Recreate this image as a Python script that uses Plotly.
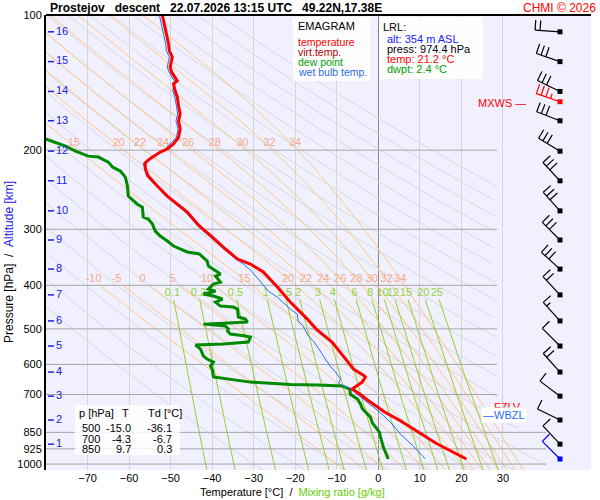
import numpy as np
import plotly.graph_objects as go

# ---- sounding ----
temp_p = [974.4, 940, 900, 850, 800, 766, 750, 720, 700, 680.8, 657, 640, 634, 614, 602,
          555, 536, 500, 475.5, 435.7, 403.5, 373.6, 358.5, 349.5, 332, 312, 295, 274.7,
          266.5, 253.1, 240.4, 228.4, 220.3, 213.7, 210.4, 207.2, 202.0, 198.8, 193.7,
          187.2, 179.4, 172.1, 166.1, 159.3, 152.2, 147.7, 142.4, 140.2, 136.6, 133.9,
          130.5, 124.0, 120.3, 116.0, 110.3, 104.7, 100]
temp_t = [21.2, 18.0, 14.0, 9.7, 5.2, 1.5, 0.0, -2.6, -4.3, -6.3, -3.9, -3.1, -3.6, -6.0, -6.7,
          -9.9, -11.1, -15.0, -17.1, -21.2, -24.3, -27.7, -30.8, -33.9, -36.8, -40.0, -43.1, -46.0,
          -47.7, -50.8, -53.2, -55.4, -56.1, -56.1, -55.4, -54.2, -52.5, -50.8, -49.3,
          -48.1, -47.7, -48.1, -47.7, -48.1, -48.4, -48.9, -49.3, -48.4, -49.1, -49.8,
          -50.1, -49.6, -50.3, -50.5, -51.0, -51.5, -52.0]

dwpt_p = [974.4, 916.5, 867.6, 850, 810.7, 786, 754, 735, 716.5, 700, 681, 670, 667, 665,
          657, 640, 614.4, 605, 592.8, 583.7, 574.8, 554.6, 543.3, 540.5, 535, 521.4, 518.8,
          513.5, 505.7, 500, 492.9, 488, 483, 475.5, 470.6, 458.7, 451.7, 447.1, 444.8,
          435.8, 429.1, 422.6, 418.2, 414, 411.9, 407.7, 397.4, 393.4, 387.3, 381.4, 377.5,
          373.6, 367.9, 362.3, 353.1, 340.6, 337.1, 326.9, 318.7, 310.7, 302.8, 291.8,
          284.7, 281.8, 267.8, 263.8, 253.1, 240.4, 229.6, 222.6, 218, 212.6, 207.2, 206.2,
          201, 195.8, 188.9, 183]
dwpt_t = [2.4, 1.2, 0.5, 0.3, -1.4, -1.9, -3.8, -4.3, -5.0, -6.7, -6.9, -8.7, -14.7, -21.2,
          -30.8, -39.7, -40.0, -40.4, -39.7, -41.2, -42.1, -42.8, -44.0, -37.3, -31.3, -30.8, -32.0,
          -35.6, -36.3, -36.1, -36.8, -42.1, -31.5, -32.0, -33.7, -33.9, -33.9, -34.9, -38.0,
          -39.2, -37.5, -39.7, -42.1, -40.0, -39.2, -40.9, -39.7, -38.0, -38.5, -39.2, -38.0,
          -38.7, -40.0, -40.9, -41.2, -43.1, -46.0, -49.3, -50.8, -52.5, -53.7, -54.4,
          -55.4, -56.6, -56.8, -58.0, -60.2, -60.4, -60.9, -62.1, -64.0, -65.0, -67.4, -69.8,
          -72.9, -75.3, -80.1, -82.0]

wetb_p = [974.4, 911.6, 857.3, 806.3, 766, 720.2, 695.6, 681, 670, 660, 646.8, 624, 605.2,
          574.8, 545.6, 532.3, 519.5, 492.7, 480.4, 463.6, 451.7, 436, 425, 412, 393, 373.6,
          358.5, 349.5, 332, 312, 295, 274.7, 253.1, 228.4, 213.7, 207.2, 198.8, 187.2,
          179.4, 172.1, 166.1, 159.3, 152.2, 147.7, 140.2, 133.9, 130.5, 124, 120.3, 116,
          110.3, 104.7, 100]
wetb_t = [11.3, 8.4, 5.3, 2.9, 0.3, -3.3, -5.4, -6.3, -8.6, -9.6, -9.1, -10.3, -11.6,
          -13.2, -14.7, -15.6, -16.8, -18.1, -19.3, -19.5, -21.2, -22.9, -24.3, -26.5, -28.4, -30.3,
          -32.5, -34.3, -37.2, -40.4, -43.5, -46.4, -51.2, -55.8, -56.6, -54.8, -51.3, -48.6,
          -48.2, -48.7, -48.3, -48.6, -49.0, -49.5, -49.1, -50.4, -50.8, -50.3, -51.0, -51.2,
          -51.7, -52.3, -52.7]

# altitude scale
alt_km = [16, 15, 14, 13, 12, 11, 10, 9, 8, 7, 6, 5, 4, 3, 2, 1]
alt_p = [109, 127, 148, 172, 201, 234, 273, 317, 368, 420, 480, 546, 624, 706, 798, 903]

# winds (deg, kt); MXWS red, surface blue
wind_p = [109, 127, 148, 156, 172, 201, 234, 273, 317, 368, 420, 480, 546, 624, 706, 798, 903, 974.4]
wind_dir = [274, 289, 296, 289, 291, 301, 317, 318, 315, 312, 317, 318, 315, 318, 307, 296, 317, 315]
wind_spd = [20, 30, 30, 35, 30, 30, 30, 30, 30, 30, 20, 15, 10, 20, 10, 10, 10, 10]
wind_col = ["black"] * 3 + ["red"] + ["black"] * 13 + ["blue"]

# table
table_p = [500, 700, 850]
table_t = [-15.0, -4.3, 9.7]
table_td = [-36.1, -6.7, 0.3]

# diagram isopleths
pressure_ticks = [100, 200, 300, 400, 500, 600, 700, 850, 925, 1000]
isobars_short = [200, 300, 400, 500, 600, 700]
isobars_long = [850, 925, 1000]
dry_theta = list(range(-30, 190, 10))
moist_thw_full = [15, 20, 22, 24, 26, 28, 30, 32, 34]
moist_thw_low = [-10, -5, 0, 5, 10]
mix_w = [0.1, 0.2, 0.5, 1, 1.5, 2, 3, 4, 6, 8, 10, 12, 15, 20, 25]

# ---- geometry ----
W, H = 600, 500
ML, MR, MT, MB = 46, 9, 15, 30
T_MIN, T_MAX = -80.0, 51.2
P_TOP, P_BOT = 100.0, 1031.0
PW, PH = W - ML - MR, H - MT - MB
KX = PW / (T_MAX - T_MIN)
KY = PH / (np.log10(P_BOT) - np.log10(P_TOP))


def px(x):
    return (x - ML) / PW


def py(y):
    return (H - MB - y) / PH


def esat(tc):
    return 6.112 * np.exp(17.67 * tc / (tc + 243.5))


def moist_adiabat(thw, p_end):
    def slope(T, p):
        es = esat(T - 273.15)
        rs = 0.622 * es / (p - es)
        return (287.04 * T + 2.501e6 * rs) / (1005.7 + 2.501e6 ** 2 * rs * 0.622 / (287.04 * T * T)) / p
    parts = []
    for target in (p_end, P_BOT):
        T, p = thw + 273.15, 1000.0
        n = 300
        h = (target - 1000.0) / n
        pts = [(p, T)]
        for _ in range(n):
            k1 = slope(T, p)
            k2 = slope(T + h * k1 / 2, p + h / 2)
            k3 = slope(T + h * k2 / 2, p + h / 2)
            k4 = slope(T + h * k3, p + h)
            T += h * (k1 + 2 * k2 + 2 * k3 + k4) / 6
            p += h
            pts.append((p, T))
        parts.append(pts)
    pts = parts[0][::-1] + parts[1][1:]
    return np.array([q[0] for q in pts]), np.array([q[1] - 273.15 for q in pts])


fig = go.Figure()

# dry adiabats
pp = np.geomspace(P_TOP, P_BOT, 200)
tmax = np.where(pp <= 700, 28.6, 28.6 + (pp - 700) / 300 * 11.8)
dx, dy = [], []
for th in dry_theta:
    tt = (th + 273.15) * (pp / 1000.0) ** 0.2857 - 273.15
    tt = np.where(tt > tmax, np.nan, tt)
    dx += list(tt) + [None]
    dy += list(pp) + [None]
fig.add_trace(go.Scatter(x=dx, y=dy, mode="lines", line=dict(color="#d9d9e0", width=1), hoverinfo="skip"))

# moist adiabats
mx, my, lab_up, lab_lo = [], [], [], []
for thw in moist_thw_low + moist_thw_full:
    p_end = 100.0 if thw >= 15 else 400.0
    p_arr, t_arr = moist_adiabat(thw, p_end)
    mx += list(t_arr) + [None]
    my += list(p_arr) + [None]
    order = np.argsort(p_arr)
    lab_lo.append(np.interp(387, p_arr[order], t_arr[order]))
    if thw >= 15:
        lab_up.append(np.interp(193, p_arr[order], t_arr[order]))
fig.add_trace(go.Scatter(x=mx, y=my, mode="lines", line=dict(color="#ffc788", width=1), hoverinfo="skip"))

# mixing ratio lines
pm = np.geomspace(430, P_BOT, 60)
wx, wy, wl = [], [], []
for w in mix_w:
    lr = np.log(w * pm / (622.0 + w) / 6.112)
    td = 243.5 * lr / (17.67 - lr)
    wx += list(td) + [None]
    wy += list(pm) + [None]
    l0 = np.log(w * 416 / (622.0 + w) / 6.112)
    wl.append(243.5 * l0 / (17.67 - l0))
fig.add_trace(go.Scatter(x=wx, y=wy, mode="lines", line=dict(color="#9acd32", width=1), hoverinfo="skip"))

# isobars
ix, iy = [], []
for p in isobars_short:
    ix += [T_MIN, 28.6, None]
    iy += [p, p, None]
for p in isobars_long:
    ix += [T_MIN, 40.4, None]
    iy += [p, p, None]
fig.add_trace(go.Scatter(x=ix, y=iy, mode="lines", line=dict(color="#a6a6a6", width=1), hoverinfo="skip"))

# labels of isopleths (nudged a little off the lines, as in the original)
fig.add_trace(go.Scatter(x=[t + 1.0 for t in lab_up], y=[193] * len(lab_up), mode="text",
                         text=[str(v) for v in moist_thw_full],
                         textfont=dict(color="#f7a98a", size=11), hoverinfo="skip"))
fig.add_trace(go.Scatter(x=[t - 1.5 if v < 15 else t for t, v in zip(lab_lo, moist_thw_low + moist_thw_full)],
                         y=[387] * len(lab_lo), mode="text",
                         text=[str(v) for v in moist_thw_low + moist_thw_full],
                         textfont=dict(color="#f7a98a", size=11), hoverinfo="skip"))
fig.add_trace(go.Scatter(x=wl, y=[416] * len(wl), mode="text",
                         text=[f"{v:g}" for v in mix_w],
                         textfont=dict(color="#99d23c", size=11), hoverinfo="skip"))

# sounding curves
fig.add_trace(go.Scatter(x=dwpt_t, y=dwpt_p, mode="lines", line=dict(color="#008a00", width=3), hoverinfo="skip"))
fig.add_trace(go.Scatter(x=wetb_t, y=wetb_p, mode="lines", line=dict(color="#2a6cf0", width=1), hoverinfo="skip"))
fig.add_trace(go.Scatter(x=temp_t, y=temp_p, mode="lines", line=dict(color="#ff0000", width=3), hoverinfo="skip"))

# altitude scale
ax_, ay_ = [], []
for p in alt_p:
    ax_ += [T_MIN + 2 / KX, T_MIN + 8 / KX, None]
    ay_ += [p, p, None]
fig.add_trace(go.Scatter(x=ax_, y=ay_, mode="lines", line=dict(color="#2020e8", width=1.5), hoverinfo="skip"))
fig.add_trace(go.Scatter(x=[T_MIN + 10 / KX] * len(alt_p), y=alt_p, mode="text",
                         text=[str(k) for k in alt_km], textposition="middle right",
                         textfont=dict(color="#2020e8", size=11), hoverinfo="skip"))

# wind barbs
base_t = T_MIN + (560 - ML) / KX
for p0, d, spd, col in zip(wind_p, wind_dir, wind_spd, wind_col):
    r = np.radians(d)
    ux, uy = np.sin(r), np.cos(r)
    bx, by = np.cos(r), -np.sin(r)

    def pt(ox, oy):
        return base_t + ox / KX, p0 * 10 ** (-oy / KY)

    segs = [[(0, 0), (25 * ux, 25 * uy)]]
    n_full, n_half = spd // 10, (spd % 10) // 5
    k = 0
    for i in range(n_full):
        sx, sy = (25 - 5 * k) * ux, (25 - 5 * k) * uy
        segs.append([(sx, sy), (sx + 10 * bx, sy + 10 * by)])
        k += 1
    for i in range(n_half):
        if k == 0:
            k = 1
        sx, sy = (25 - 5 * k) * ux, (25 - 5 * k) * uy
        segs.append([(sx, sy), (sx + 5 * bx, sy + 5 * by)])
        k += 1
    bxs, bys = [], []
    for s in segs:
        for (ox, oy) in s:
            t_, p_ = pt(ox, oy)
            bxs.append(t_)
            bys.append(p_)
        bxs.append(None)
        bys.append(None)
    fig.add_trace(go.Scatter(x=bxs, y=bys, mode="lines", line=dict(color=col, width=1.2),
                             hoverinfo="skip", cliponaxis=False))
    fig.add_trace(go.Scatter(x=[base_t], y=[p0], mode="markers",
                             marker=dict(symbol="square", size=5, color=col), hoverinfo="skip"))

# ---- boxes and text ----
shapes = [
    dict(type="line", xref="paper", yref="paper", x0=0, x1=1, y0=1, y1=1, line=dict(color="black", width=2)),
    dict(type="rect", xref="paper", yref="paper", x0=px(293), x1=px(370), y0=py(81), y1=py(17),
         fillcolor="white", opacity=0.9, line=dict(width=0), layer="above"),
    dict(type="rect", xref="paper", yref="paper", x0=px(380), x1=px(483), y0=py(79), y1=py(17),
         fillcolor="white", opacity=0.9, line=dict(width=0), layer="above"),
    dict(type="rect", xref="paper", yref="paper", x0=px(75), x1=px(180), y0=py(455), y1=py(405),
         fillcolor="white", opacity=0.85, line=dict(width=0), layer="above"),
]

ann = []


def note(x, y, text, color="black", size=11, anchor="left", **kw):
    ann.append(dict(x=px(x), y=py(y), xref="paper", yref="paper", text=text, showarrow=False,
                    xanchor=anchor, yanchor="middle", font=dict(color=color, size=size), **kw))


nb = "\u00a0"
note(48, 8, "<b>Prostejov" + nb * 3 + "descent" + nb * 3 + "22.07.2026 13:15 UTC" + nb * 3 + "49.22N,17.38E</b>", size=12)
note(598, 8, "CHMI © 2026", color="#ff0000", size=12, anchor="right")

note(296, 26, "EMAGRAM", size=11)
note(296, 42, "temperature", color="#ff0000", size=10.5)
note(296, 52, "virt.temp.", color="#b00000", size=10.5)
note(296, 62, "dew point", color="#00a000", size=10.5)
note(296, 72, "wet bulb temp.", color="#2a6cf0", size=10.5)

note(381, 27, "LRL:", size=11)
note(385, 39, "alt: 354 m ASL", color="#2020ff", size=11)
note(385, 49, "press: 974.4 hPa", size=11)
note(385, 59, "temp: 21.2 °C", color="#ff0000", size=11)
note(385, 69, "dwpt: 2.4 °C", color="#00a000", size=11)

note(77, 413, "p [hPa]", size=11)
note(131, 413, "T", size=11, anchor="right")
note(146, 413, "Td [°C]", size=11)
for i, (tp, tt, td) in enumerate(zip(table_p, table_t, table_td)):
    yy = 428 + 10.5 * i
    note(102, yy, str(tp), size=11, anchor="right")
    note(133, yy, f"{tt:.1f}", size=11, anchor="right")
    note(174, yy, f"{td:.1f}", size=11, anchor="right")

note(528, 103, "MXWS —", color="#ff0000", size=11, anchor="right")
note(481, 407, "—FZLV", color="#ff0000", size=11)
ann.append(dict(x=px(481), y=py(415), xref="paper", yref="paper", text="—WBZL", showarrow=False,
                xanchor="left", yanchor="middle", font=dict(color="#2a6cf0", size=11),
                bgcolor="white", borderpad=1))

note(9, 262, "Pressure [hPa]" + nb * 2 + "/" + nb * 2 + "<span style='color:#2020e8'>Altitude [km]</span>",
     size=12, anchor="center", textangle=-90)
note(292, 492, "Temperature [°C]" + nb * 2 + "/" + nb * 2 + "<span style='color:#66cc00'>Mixing ratio [g/kg]</span>",
     size=11, anchor="center")

fig.update_layout(
    width=W, height=H, margin=dict(l=ML, r=MR, t=MT, b=MB),
    paper_bgcolor="white", plot_bgcolor="#f0f0fe", showlegend=False,
    font=dict(family="Liberation Sans, Arial, sans-serif", size=11, color="black"),
    xaxis=dict(range=[T_MIN, T_MAX], tickvals=list(range(-70, 31, 10)), showgrid=True,
               gridcolor="#d6d6da", gridwidth=1, zeroline=True, zerolinecolor="#8a8a8a",
               zerolinewidth=1, ticks="", showline=False, tickfont=dict(size=11)),
    yaxis=dict(type="log", range=[np.log10(P_BOT), np.log10(P_TOP)], tickvals=pressure_ticks,
               ticktext=[str(v) for v in pressure_ticks], showgrid=False, zeroline=False,
               showline=True, linecolor="black", linewidth=2, ticks="", tickfont=dict(size=11)),
    shapes=shapes, annotations=ann,
)

fig.write_html("out.html", config={"displayModeBar": False},
               post_script="document.body.style.margin='0';document.body.style.overflow='hidden';")
